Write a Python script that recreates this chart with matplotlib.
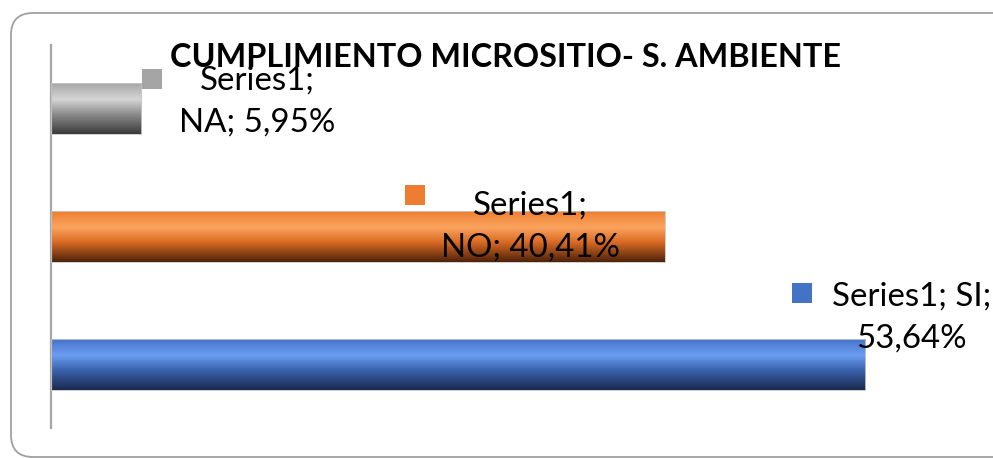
import numpy as np
import matplotlib
matplotlib.use("Agg")
import matplotlib.pyplot as plt
from matplotlib.colors import to_rgb
from matplotlib.patches import FancyBboxPatch, Rectangle
from matplotlib.offsetbox import DrawingArea, AnnotationBbox

matplotlib.rcParams["font.family"] = ["Lato", "DejaVu Sans"]

# bottom to top, as the bars are stacked on the category axis
categories = ["SI", "NO", "NA"]
values = [53.64, 40.41, 5.95]
series_name = "Series1"
title = "CUMPLIMIENTO MICROSITIO- S. AMBIENTE"

# gradient stops per bar, top edge -> highlight -> bottom edge
GRADIENTS = {
    "SI": ["#4470c4", "#6b9ef2", "#3a62ad", "#1b2b4e"],
    "NO": ["#ed7d31", "#fba45e", "#d96a24", "#4f2309"],
    "NA": ["#a5a5a5", "#d6d6d6", "#8c8c8c", "#3c3c3c"],
}
KEY_COLORS = {"SI": "#4472c4", "NO": "#ed7d31", "NA": "#a5a5a5"}

# label text lines and placement (pixel offsets from the bar end)
LABEL_LINES = {
    "SI": ("{s}; {c};", "{v}"),
    "NO": ("{s};", "{c}; {v}"),
    "NA": ("{s};", "{c}; {v}"),
}
LABEL_OFFSETS = {"SI": (46, 47), "NO": (-134, 10), "NA": (116, 7)}
KEY_OFFSETS = {"SI": (-63, 71), "NO": (-250, 42), "NA": (11, 30)}

W, H, DPI = 993, 458, 100
fig = plt.figure(figsize=(W / DPI, H / DPI), dpi=DPI)

# full-figure overlay in pixel units for the rounded chart-area frame
bg = fig.add_axes([0, 0, 1, 1])
bg.set_xlim(0, W)
bg.set_ylim(0, H)
bg.axis("off")
bg.add_patch(FancyBboxPatch((11, 1), 1200, 444, boxstyle="round,pad=0,rounding_size=22",
                            facecolor="none", edgecolor="#a0a0a0", linewidth=1.3,
                            clip_on=False))

ax = fig.add_axes([51 / W, 30 / H, 911 / W, 383 / H])
ax.patch.set_alpha(0)


def gradient(stops, n=64):
    pos = np.array([0.0, 0.33, 0.62, 1.0])
    rgb = np.array([to_rgb(c) for c in stops])
    t = np.linspace(0, 1, n)
    cols = np.stack([np.interp(t, pos, rgb[:, k]) for k in range(3)], axis=-1)
    return cols[:, None, :]


bar_h = 0.4
bars = ax.barh(range(len(categories)), values, height=bar_h,
               color="none", edgecolor="#c8c8c8", linewidth=0.6, zorder=3)
for i, (cat, val, bar) in enumerate(zip(categories, values, bars)):
    im = ax.imshow(gradient(GRADIENTS[cat]), aspect="auto", origin="upper",
                   extent=[0, val, i - bar_h / 2, i + bar_h / 2],
                   interpolation="bilinear", zorder=2)
    im.set_clip_path(bar)

    txt = f"{val:.2f}".replace(".", ",") + "%"
    l1, l2 = LABEL_LINES[cat]
    label = (l1 + "\n" + l2).format(s=series_name, c=cat, v=txt)
    dx, dy = LABEL_OFFSETS[cat]
    ax.annotate(label, xy=(val, i), xytext=(dx, dy), textcoords="offset pixels",
                ha="center", va="center", fontsize=23.8, linespacing=1.5,
                color="#000000", zorder=5, annotation_clip=False)

    kx, ky = KEY_OFFSETS[cat]
    da = DrawingArea(14.4, 14.4, 0, 0)
    da.add_artist(Rectangle((0, 0), 14.4, 14.4, facecolor=KEY_COLORS[cat],
                            edgecolor="none"))
    ab = AnnotationBbox(da, (val, i), xybox=(kx, ky), boxcoords="offset pixels",
                        frameon=False, pad=0, box_alignment=(0.5, 0.5),
                        annotation_clip=False, zorder=4)
    ax.add_artist(ab)

ax.set_xlim(0, 60)
ax.set_ylim(-0.5, 2.5)
ax.set_xticks([])
ax.set_yticks([])
for side in ["top", "right", "bottom"]:
    ax.spines[side].set_visible(False)
ax.spines["left"].set_color("#a6a6a6")
ax.spines["left"].set_linewidth(1.6)

fig.text(505 / W, (H - 67) / H, title, ha="center", va="baseline",
         fontsize=23.3, fontweight="bold", color="#000000")

fig.savefig("out.png", dpi=DPI)
